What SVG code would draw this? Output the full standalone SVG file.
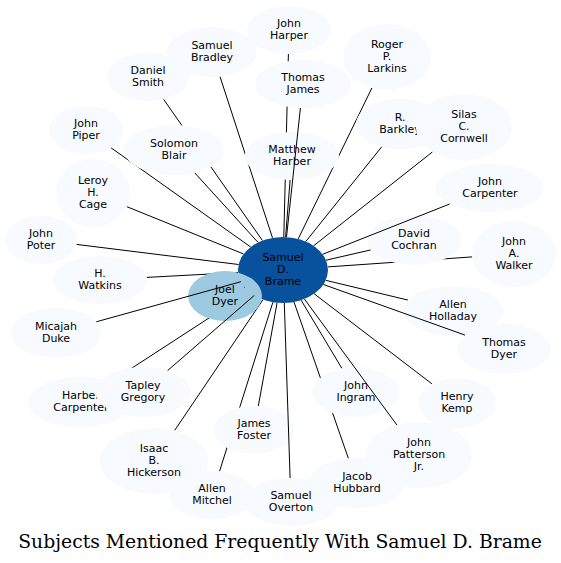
<svg xmlns="http://www.w3.org/2000/svg" width="561" height="563" viewBox="0 0 561 563">
<style>
.n{fill:#f7fbff}
.c{fill:#08519c}
.j{fill:#9ecae1}
text{font-family:"DejaVu Sans",Verdana,sans-serif;font-size:11px;text-anchor:middle;fill:#000}
.e line{stroke:#000;stroke-width:1;fill:none}
.title{font-family:"DejaVu Serif",serif;font-size:18.8px}
</style>
<rect width="561" height="563" fill="#fff"/>
<g id="edges-under" class="e">
<line x1="283.8" y1="237" x2="288.4" y2="54"/>
<line x1="272.5" y1="237.9" x2="220" y2="76.6"/>
<line x1="262.5" y1="240.6" x2="163.5" y2="99.2"/>
<line x1="250.7" y1="247" x2="110.9" y2="147.7"/>
<line x1="258.1" y1="242.5" x2="194.7" y2="172.8"/>
<line x1="243.6" y1="254" x2="126.9" y2="206.7"/>
<line x1="238.6" y1="264.5" x2="76.4" y2="244.4"/>
<line x1="238.1" y1="272.5" x2="146.7" y2="277.4"/>
<line x1="249.3" y1="291.8" x2="110.5" y2="382"/>
<line x1="263" y1="299.6" x2="174.6" y2="430.5"/>
<line x1="277.1" y1="302.7" x2="258.3" y2="406.1"/>
<line x1="272.9" y1="302.2" x2="219.5" y2="471.4"/>
<line x1="294" y1="302" x2="348.4" y2="458.4"/>
<line x1="301.1" y1="300.2" x2="341.9" y2="368.4"/>
<line x1="314.2" y1="293.8" x2="431.9" y2="383.8"/>
<line x1="325.7" y1="280.3" x2="408" y2="300.1"/>
<line x1="327.8" y1="266.9" x2="472.2" y2="256.9"/>
<line x1="326" y1="260.2" x2="370.8" y2="249.9"/>
<line x1="313.6" y1="245.8" x2="432.5" y2="151.9"/>
<line x1="305.8" y1="241.5" x2="381.8" y2="146.7"/>
<line x1="298.2" y1="238.9" x2="371.9" y2="88"/>
<line x1="285.6" y1="237" x2="290.1" y2="180"/>
</g>
<g id="brame"><ellipse class="c" cx="283" cy="270" rx="45" ry="33"/><text x="283" y="261">Samuel</text><text x="283" y="273">D.</text><text x="283" y="285">Brame</text></g>
<g id="joel-dyer"><ellipse class="j" cx="225" cy="296" rx="37" ry="25"/><text x="225" y="293">Joel</text><text x="225" y="305">Dyer</text></g>
<g id="john-harper"><ellipse class="n" cx="289" cy="30" rx="42" ry="24"/><text x="289" y="27">John</text><text x="289" y="39">Harper</text></g>
<g id="samuel-bradley"><ellipse class="n" cx="212" cy="52" rx="45" ry="25"/><text x="212" y="49">Samuel</text><text x="212" y="61">Bradley</text></g>
<g id="daniel-smith"><ellipse class="n" cx="148" cy="77" rx="41" ry="24"/><text x="148" y="74">Daniel</text><text x="148" y="86">Smith</text></g>
<g id="john-piper"><ellipse class="n" cx="86" cy="130" rx="37" ry="24"/><text x="86" y="127">John</text><text x="86" y="139">Piper</text></g>
<g id="solomon-blair"><ellipse class="n" cx="174" cy="150" rx="50" ry="25"/><text x="174" y="147">Solomon</text><text x="174" y="159">Blair</text></g>
<g id="leroy-cage"><ellipse class="n" cx="93" cy="193" rx="37" ry="34"/><text x="93" y="184">Leroy</text><text x="93" y="196">H.</text><text x="93" y="208">Cage</text></g>
<g id="john-poter"><ellipse class="n" cx="41" cy="240" rx="36" ry="24"/><text x="41" y="237">John</text><text x="41" y="249">Poter</text></g>
<g id="h-watkins"><ellipse class="n" cx="100" cy="280" rx="47" ry="24"/><text x="100" y="277">H.</text><text x="100" y="289">Watkins</text></g>
<g id="micajah-duke"><ellipse class="n" cx="56" cy="333" rx="45" ry="25"/><text x="56" y="330">Micajah</text><text x="56" y="342">Duke</text></g>
<g id="harber-carpenter"><ellipse class="n" cx="80" cy="402" rx="52" ry="25"/><text x="81" y="399">Harber</text><text x="81" y="411">Carpenter</text></g>
<g id="tapley-gregory"><ellipse class="n" cx="143" cy="392" rx="47.5" ry="25"/><text x="143" y="389">Tapley</text><text x="143" y="401">Gregory</text></g>
<g id="isaac-hickerson"><ellipse class="n" cx="154" cy="461" rx="54" ry="33"/><text x="154" y="452">Isaac</text><text x="154" y="464">B.</text><text x="154" y="476">Hickerson</text></g>
<g id="james-foster"><ellipse class="n" cx="254" cy="430" rx="40" ry="24"/><text x="254" y="427">James</text><text x="254" y="439">Foster</text></g>
<g id="allen-mitchel"><ellipse class="n" cx="212" cy="495" rx="43" ry="24"/><text x="212" y="492">Allen</text><text x="212" y="504">Mitchel</text></g>
<g id="samuel-overton"><ellipse class="n" cx="291" cy="502" rx="47" ry="24"/><text x="291" y="499">Samuel</text><text x="291" y="511">Overton</text></g>
<g id="jacob-hubbard"><ellipse class="n" cx="357" cy="483" rx="48" ry="25"/><text x="357" y="480">Jacob</text><text x="357" y="492">Hubbard</text></g>
<g id="john-patterson"><ellipse class="n" cx="419" cy="455" rx="53" ry="33"/><text x="419" y="446">John</text><text x="419" y="458">Patterson</text><text x="419" y="470">Jr.</text></g>
<g id="john-ingram"><ellipse class="n" cx="356" cy="392" rx="43" ry="25"/><text x="356" y="389">John</text><text x="356" y="401">Ingram</text></g>
<g id="henry-kemp"><ellipse class="n" cx="457" cy="403" rx="39" ry="25"/><text x="457" y="400">Henry</text><text x="457" y="412">Kemp</text></g>
<g id="thomas-dyer"><ellipse class="n" cx="504" cy="349" rx="47" ry="25"/><text x="504" y="346">Thomas</text><text x="504" y="358">Dyer</text></g>
<g id="allen-holladay"><ellipse class="n" cx="453" cy="311" rx="50" ry="25"/><text x="453" y="308">Allen</text><text x="453" y="320">Holladay</text></g>
<g id="john-walker"><ellipse class="n" cx="514" cy="254" rx="42" ry="33"/><text x="514" y="245">John</text><text x="514" y="257">A.</text><text x="514" y="269">Walker</text></g>
<g id="david-cochran"><ellipse class="n" cx="414" cy="240" rx="47" ry="25"/><text x="414" y="237">David</text><text x="414" y="249">Cochran</text></g>
<g id="john-carpenter"><ellipse class="n" cx="490" cy="188" rx="54" ry="24"/><text x="490" y="185">John</text><text x="490" y="197">Carpenter</text></g>
<g id="r-barkley"><ellipse class="n" cx="400" cy="124" rx="44" ry="25"/><text x="400" y="121">R.</text><text x="400" y="133">Barkley</text></g>
<g id="silas-cornwell"><ellipse class="n" cx="464" cy="127" rx="48" ry="33"/><text x="464" y="118">Silas</text><text x="464" y="130">C.</text><text x="464" y="142">Cornwell</text></g>
<g id="roger-larkins"><ellipse class="n" cx="387" cy="57" rx="44" ry="33"/><text x="387" y="48">Roger</text><text x="387" y="60">P.</text><text x="387" y="72">Larkins</text></g>
<g id="matthew-harber"><ellipse class="n" cx="292" cy="156" rx="47" ry="24"/><text x="292" y="153">Matthew</text><text x="292" y="165">Harber</text></g>
<g id="thomas-james"><ellipse class="n" cx="303" cy="84" rx="48" ry="24"/><text x="303" y="81">Thomas</text><text x="303" y="93">James</text></g>
<g id="edges-over" class="e">
<line x1="240.9" y1="281.7" x2="96.3" y2="321.8"/>
<line x1="254.3" y1="295.4" x2="167.6" y2="370.6"/>
<line x1="286.5" y1="237.1" x2="300.4" y2="108"/>
<line x1="304.4" y1="299" x2="396.9" y2="425"/>
<line x1="323.4" y1="284.5" x2="465" y2="335.1"/>
<line x1="322.6" y1="254.3" x2="449.7" y2="204"/>
<line x1="284.3" y1="303" x2="290.1" y2="478"/>
<line x1="244.6" y1="287.2" x2="244" y2="287.6"/>
</g>
<text class="title" x="280" y="548">Subjects Mentioned Frequently With Samuel D. Brame</text>
</svg>
